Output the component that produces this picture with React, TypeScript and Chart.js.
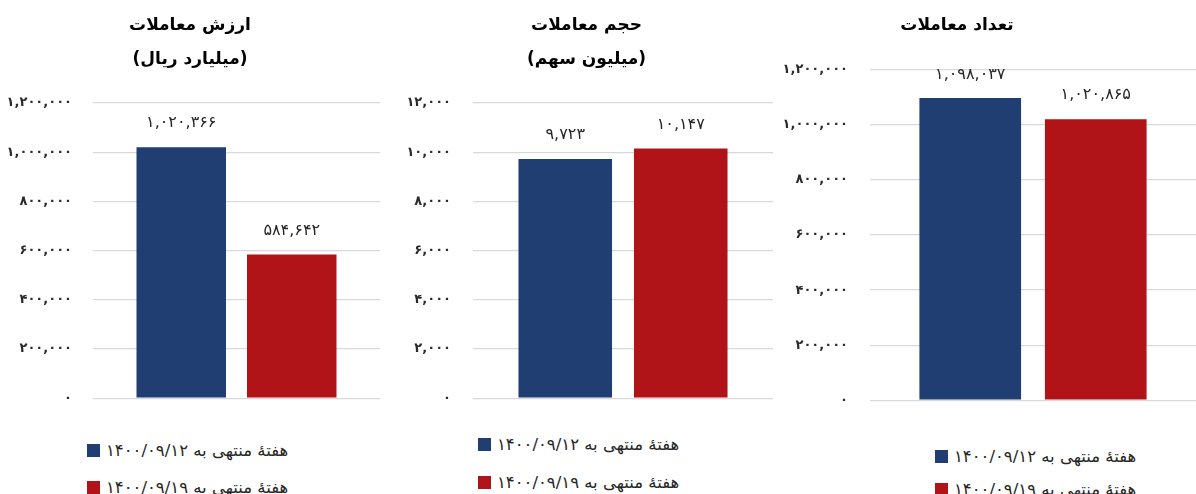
import React, { useEffect, useRef } from 'react';
import { Chart, registerables } from 'chart.js';

Chart.register(...registerables);

// ---- data ----
const seriesLabels = ['هفتهٔ منتهی به ۱۴۰۰/۰۹/۱۲', 'هفتهٔ منتهی به ۱۴۰۰/۰۹/۱۹'];
const panelTitles = [
  ['ارزش معاملات', '(میلیارد ریال)'],
  ['حجم معاملات', '(میلیون سهم)'],
  ['تعداد معاملات'],
];
const week1Values = [1020366, 9723, 1098037];
const week2Values = [584642, 10147, 1020865];
const axisMax = [1200000, 12000, 1200000];
const axisStep = [200000, 2000, 200000];

// ---- styles / layout ----
const seriesColors = ['#203E72', '#B01419'];
const FONT = '"DejaVu Sans", sans-serif';
const layouts = [
  { left: 0, width: 396, height: 427, axisWidth: 93, padRight: 16, padBottom: 14, titleBottom: 26, tickPad: 21, legendLeft: 87, legendTops: [444, 481] },
  { left: 400, width: 398, height: 428, axisWidth: 73, padRight: 25, padBottom: 14, titleBottom: 26, tickPad: 22, legendLeft: 478, legendTops: [438, 476] },
  { left: 718, width: 478, height: 430, axisWidth: 152, padRight: 0, padBottom: 14, titleBottom: 27, tickPad: 22, legendLeft: 935, legendTops: [450, 483] },
];

const faDigits = '۰۱۲۳۴۵۶۷۸۹';
const toFa = (n: number) =>
  Math.round(n).toLocaleString('en-US').replace(/\d/g, (d) => faDigits[+d]);

const valueLabelPlugin = {
  id: 'valueLabels',
  afterDatasetsDraw(chart: any) {
    const { ctx, chartArea } = chart;
    ctx.save();
    ctx.font = `16px ${FONT}`;
    ctx.fillStyle = '#262626';
    ctx.textAlign = 'center';
    ctx.textBaseline = 'middle';
    chart.data.datasets.forEach((ds: any, i: number) => {
      const meta = chart.getDatasetMeta(i);
      meta.data.forEach((el: any, j: number) => {
        const y = Math.max(el.y - 24, chartArea.top + 5);
        ctx.fillText(toFa(ds.data[j]), el.x, y);
      });
    });
    ctx.restore();
  },
};

function Panel({ index }: { index: number }) {
  const ref = useRef<HTMLCanvasElement | null>(null);
  const L = layouts[index];
  useEffect(() => {
    if (!ref.current) return;
    const chart = new Chart(ref.current, {
      type: 'bar',
      data: {
        labels: [''],
        datasets: [
          { label: seriesLabels[0], data: [week1Values[index]], backgroundColor: seriesColors[0] },
          { label: seriesLabels[1], data: [week2Values[index]], backgroundColor: seriesColors[1] },
        ],
      },
      options: {
        animation: false,
        responsive: false,
        maintainAspectRatio: false,
        layout: { padding: { left: 0, right: L.padRight, top: 0, bottom: L.padBottom } },
        datasets: { bar: { categoryPercentage: 0.77, barPercentage: 0.81 } },
        plugins: {
          legend: { display: false },
          tooltip: { enabled: false },
          title: {
            display: true,
            text: panelTitles[index],
            color: '#000',
            font: { family: FONT, size: 17, weight: 'bold', lineHeight: 34 / 17 },
            padding: { top: 9, bottom: L.titleBottom },
          },
        },
        scales: {
          x: { display: false },
          y: {
            min: 0,
            max: axisMax[index],
            ticks: {
              stepSize: axisStep[index],
              padding: L.tickPad,
              color: '#2b2b2b',
              font: { family: FONT, size: 13, weight: 'bold' },
              callback: (v: any) => toFa(Number(v)),
            },
            grid: { color: '#d9d9d9', lineWidth: 1.3, drawTicks: false },
            border: { display: false },
            afterFit: (s: any) => {
              s.width = L.axisWidth;
            },
          },
        },
      } as any,
      plugins: [valueLabelPlugin],
    });
    return () => chart.destroy();
  }, [index]);

  return (
    <>
      <canvas
        ref={ref}
        width={L.width}
        height={L.height}
        style={{ position: 'absolute', left: L.left, top: 0, width: L.width, height: L.height }}
      />
      {seriesLabels.map((lab, i) => (
        <div
          key={i}
          style={{
            position: 'absolute',
            left: L.legendLeft,
            top: L.legendTops[i] - 6,
            height: 25,
            display: 'flex',
            alignItems: 'center',
            whiteSpace: 'nowrap',
          }}
        >
          <span style={{ width: 13, height: 13, background: seriesColors[i], display: 'inline-block', marginRight: 6 }} />
          <span dir="rtl" style={{ fontFamily: FONT, fontSize: 16.5, color: '#262626', lineHeight: '25px' }}>
            {lab}
          </span>
        </div>
      ))}
    </>
  );
}

export default function App() {
  return (
    <div
      style={{
        position: 'fixed',
        left: 0,
        top: 0,
        width: 1196,
        height: 494,
        background: '#fff',
        overflow: 'hidden',
      }}
    >
      {[0, 1, 2].map((i) => (
        <Panel key={i} index={i} />
      ))}
    </div>
  );
}
